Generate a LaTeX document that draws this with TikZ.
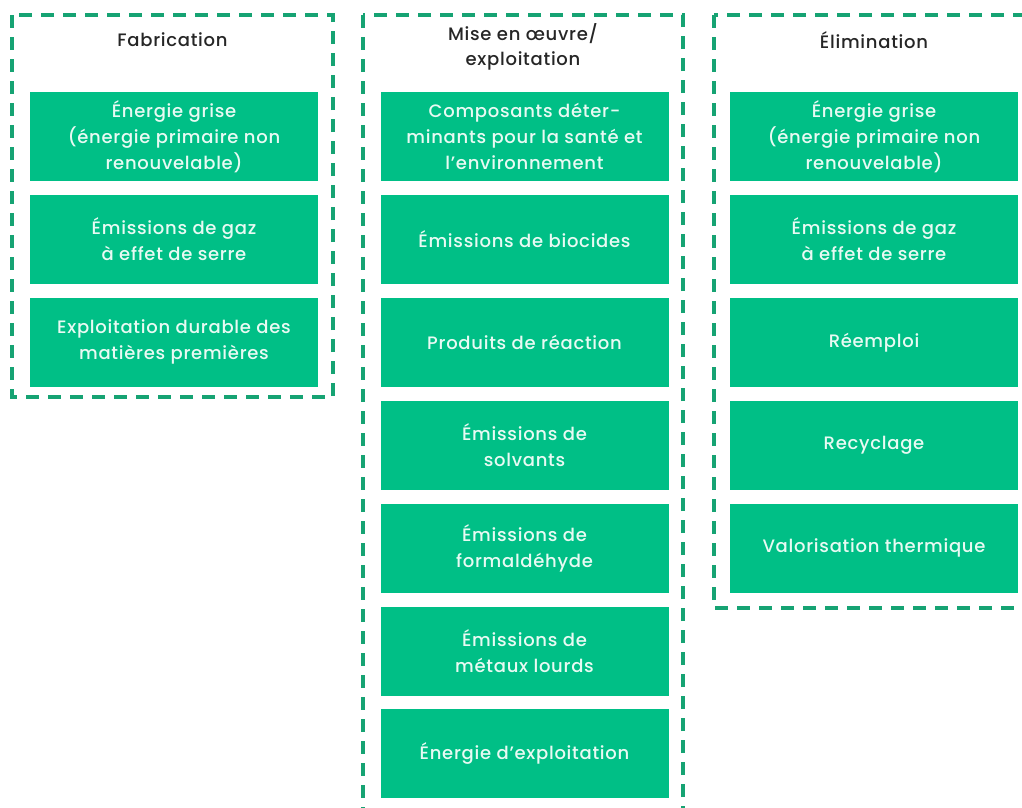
\documentclass[tikz,border=0pt]{standalone}
\usepackage{fontspec}
\setmainfont{Poppins}[LetterSpace=4, UprightFont=* Medium]
\usetikzlibrary{positioning}
\definecolor{boxgreen}{RGB}{0,191,134}
\definecolor{boxtext}{RGB}{232,250,243}
\definecolor{framegreen}{RGB}{22,163,115}
\definecolor{titlegray}{RGB}{38,38,38}

\begin{document}
\begin{tikzpicture}[x=1pt, y=-1pt,
                crit/.style={fill=boxgreen, text=boxtext, minimum width=288pt, minimum height=89pt, inner sep=0pt, align=center, font=\fontsize{18}{26}\selectfont},
                phase/.style={text=titlegray, align=center, font=\fontsize{18}{25}\selectfont},
                frame/.style={draw=framegreen, line width=3.5pt, dash pattern=on 13pt off 9pt},
                node distance=13.5pt
            ]

            \useasboundingbox (0,0) rectangle (1022,807);
            \clip (0,0) rectangle (1022,807);

            % phase frames
            \draw[frame] (12,15) rectangle (333,397);
            \draw[frame] (363,15) rectangle (683,840);
            \draw[frame] (714,15) rectangle (1036,608);

            \node[phase] (fab) at (172.5,40) {Fabrication};
            \node[phase] (use) at (523,47) {Mise en œuvre/\\exploitation};
            \node[phase] (elim) at (874,40) {Élimination};

            % Fabrication
            \node[crit] (fab1) at (174,136.5) {Énergie grise\\(énergie primaire non\\renouvelable)};
            \node[crit, below=of fab1] (fab2) {Émissions de gaz\\à effet de serre};
            \node[crit, below=of fab2] (fab3) {Exploitation durable des\\matières premières};

            % Mise en oeuvre / exploitation
            \node[crit] (use1) at (524.5,136.5) {Composants déter-\\minants pour la santé et\\l'environnement};
            \node[crit, below=of use1] (use2) {Émissions de biocides};
            \node[crit, below=of use2] (use3) {Produits de réaction};
            \node[crit, below=of use3] (use4) {Émissions de\\solvants};
            \node[crit, below=of use4] (use5) {Émissions de\\formaldéhyde};
            \node[crit, below=of use5] (use6) {Émissions de\\métaux lourds};
            \node[crit, below=of use6] (use7) {Énergie d'exploitation};

            % Elimination
            \node[crit] (elim1) at (874,136.5) {Énergie grise\\(énergie primaire non\\renouvelable)};
            \node[crit, below=of elim1] (elim2) {Émissions de gaz\\à effet de serre};
            \node[crit, below=of elim2] (elim3) {Réemploi};
            \node[crit, below=of elim3] (elim4) {Recyclage};
            \node[crit, below=of elim4] (elim5) {Valorisation thermique};

        \end{tikzpicture}
\end{document}
